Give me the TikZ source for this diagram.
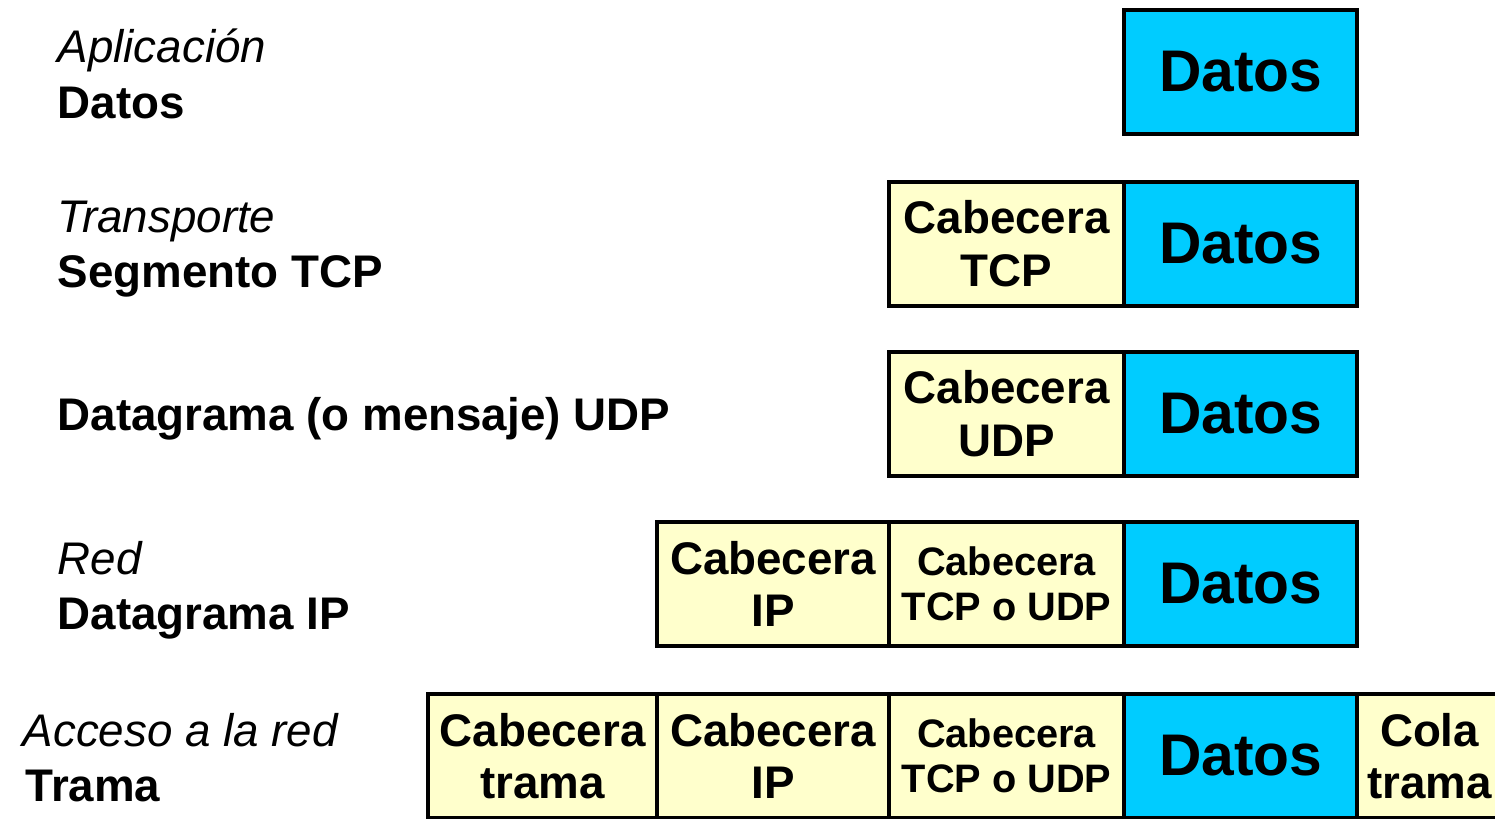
\documentclass[tikz,border=0pt]{standalone}
\usepackage{fontspec}
\setmainfont{Liberation Sans}
\usepackage{xcolor}
\definecolor{azuldatos}{RGB}{0,204,255}
\definecolor{amarillocab}{RGB}{255,255,204}
\tikzset{
  caja/.style={draw, line width=1.2pt, anchor=north west, inner sep=0pt, outer sep=0pt, align=center, minimum height=1.24cm},
  cab/.style={caja, fill=amarillocab, font=\fontsize{13}{15}\selectfont\bfseries},
  cabchica/.style={caja, fill=amarillocab, font=\fontsize{11.3}{12.8}\selectfont\bfseries},
  dat/.style={caja, fill=azuldatos, minimum width=2.33cm, font=\fontsize{16.7}{20}\selectfont\bfseries},
  capa/.style={anchor=base west, inner sep=0pt, font=\fontsize{13}{15}\selectfont\itshape},
  unidad/.style={anchor=base west, inner sep=0pt, font=\fontsize{13}{15}\selectfont\bfseries},
}
\begin{document}
\begin{tikzpicture}[line cap=round,x=0.01cm,y=-0.01cm]
\useasboundingbox (0,0) rectangle (1495,819);
\clip (0,0) rectangle (1495,819);
% Aplicacion
\node[capa] (apl) at (57,63) {Aplicación};
\node[unidad] (aplu) at (57,119) {Datos};
\node[dat] (d1) at (1124,10) {Datos};
% Transporte
\node[capa] (tra) at (57,233) {Transporte};
\node[unidad] (trau) at (57,288) {Segmento TCP};
\node[cab, minimum width=2.35cm] (tcp2) at (889,182) {Cabecera\\TCP};
\node[dat] (d2) at (1124,182) {Datos};
\node[unidad] (udpu) at (57,430) {Datagrama (o mensaje) UDP};
\node[cab, minimum width=2.35cm] (udp3) at (889,352) {Cabecera\\UDP};
\node[dat] (d3) at (1124,352) {Datos};
% Red
\node[capa] (red) at (57,574) {Red};
\node[unidad] (redu) at (57,629) {Datagrama IP};
\node[cab, minimum width=2.32cm] (ip4) at (657,522) {Cabecera\\IP};
\node[cabchica, minimum width=2.35cm] (tu4) at (889,522) {Cabecera\\TCP o UDP};
\node[dat] (d4) at (1124,522) {Datos};
% Acceso a la red
\node[capa] (acc) at (22,746) {Acceso a la red};
\node[unidad] (accu) at (25,801) {Trama};
\node[cab, minimum width=2.29cm] (tr5) at (428,694) {Cabecera\\trama};
\node[cab, minimum width=2.32cm] (ip5) at (657,694) {Cabecera\\IP};
\node[cabchica, minimum width=2.35cm] (tu5) at (889,694) {Cabecera\\TCP o UDP};
\node[dat] (d5) at (1124,694) {Datos};
\node[cab, minimum width=1.45cm] (cola5) at (1357,694) {Cola\\trama};
\end{tikzpicture}
\end{document}
